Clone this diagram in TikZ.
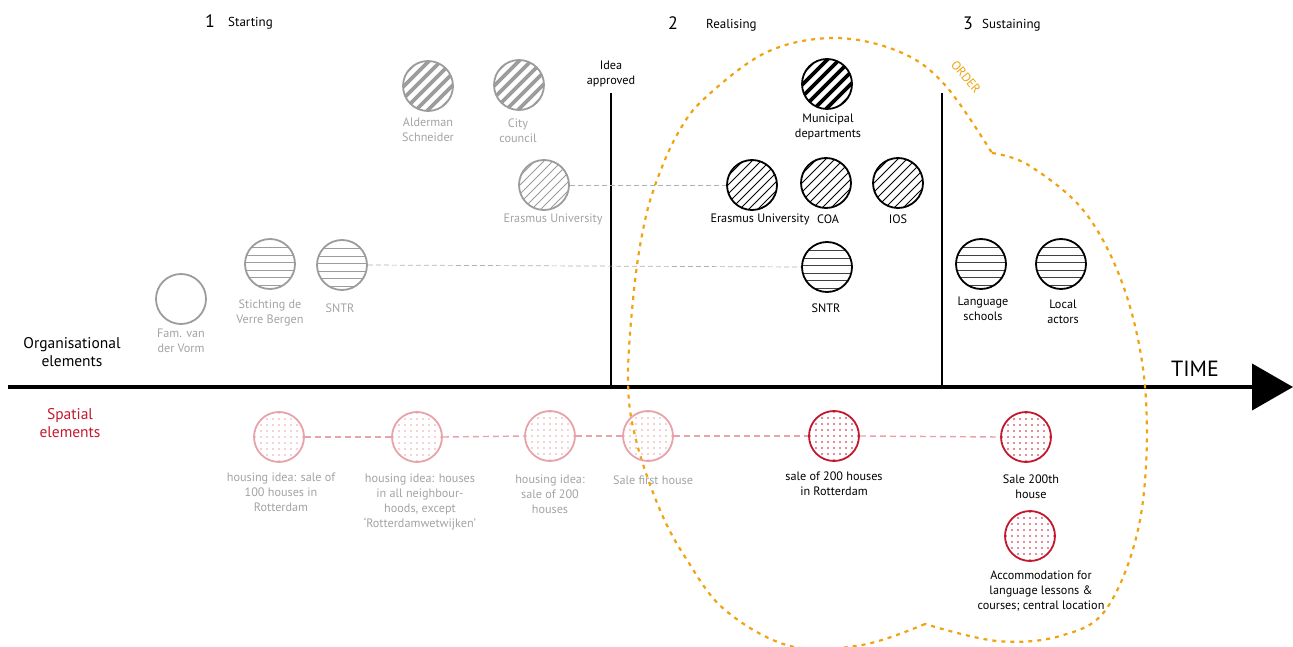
\documentclass[tikz,border=0pt]{standalone}
\usepackage{fontspec}
\setmainfont{PT Sans}
\usetikzlibrary{arrows.meta}
\definecolor{gc}{HTML}{9C9C9C}
\definecolor{gt}{HTML}{A3A3A3}
\definecolor{pk}{HTML}{E8A3AA}
\definecolor{rd}{HTML}{C4182E}
\definecolor{org}{HTML}{F0A310}
\tikzset{
  ball/.style={circle,draw=#1,line width=1.8pt,minimum size=50pt,inner sep=0pt},
  thickhatch/.style={path picture={\foreach \i in {-60,-48,...,60}
     \draw[line width=3.6pt,#1] ([xshift=\i pt-40pt,yshift=-40pt]path picture bounding box.center) -- ++(80pt,80pt);}},
  thinhatch/.style={path picture={\foreach \i in {-60,-51,...,60}
     \draw[line width=0.8pt,#1] ([xshift=\i pt-40pt,yshift=-40pt]path picture bounding box.center) -- ++(80pt,80pt);}},
  hlines/.style={path picture={\foreach \i in {-21,-13.5,...,22}
     \draw[line width=0.8pt,#1] ([xshift=-30pt,yshift=\i pt]path picture bounding box.center) -- ++(60pt,0pt);}},
  dots/.style={path picture={\foreach \a in {-24,-18,...,24} \foreach \b in {-24,-18,...,24}
     \fill[#1] ([xshift=\a pt,yshift=\b pt]path picture bounding box.center) circle(0.85pt);}},
  lbl/.style={align=center,font=\fontsize{12.2}{15}\selectfont,inner sep=0pt},
  glbl/.style={lbl,text=gt},
  head/.style={font=\fontsize{13}{15}\selectfont,inner sep=0pt,anchor=west},
  num/.style={font=\fontsize{18}{20}\selectfont,inner sep=0pt},
  graydash/.style={draw=gc!80,line width=0.7pt,dash pattern=on 5pt off 3pt},
  pinkdash/.style={draw=pk,line width=1.4pt,dash pattern=on 6pt off 4pt},
  orangedash/.style={draw=org,line width=2.2pt,dash pattern=on 4pt off 5pt},
}
\begin{document}
\begin{tikzpicture}[x=1pt,y=-1pt]
\useasboundingbox (0,0) rectangle (1293,647);

% headers
\node[num] (n1) at (210,21) {1};
\node[head] (h1) at (228,23) {Starting};
\node[num] (n2) at (673,23) {2};
\node[head] (h2) at (706,25) {Realising};
\node[num] (n3) at (968,23) {3};
\node[head] (h3) at (982,25) {Sustaining};

% timeline
\coordinate (tl0) at (8,387);
\coordinate (tl1) at (1293,387);
\draw[line width=4pt,-{Triangle[length=41pt,width=46pt]}] (tl0) -- (tl1);
\node[font=\fontsize{22}{24}\selectfont,inner sep=0pt] (time) at (1195,369) {TIME};

% vertical milestones
\coordinate (v1t) at (611,93); \coordinate (v1b) at (611,387);
\coordinate (v2t) at (942,93); \coordinate (v2b) at (942,387);
\draw[line width=2pt] (v1t) -- (v1b);
\draw[line width=2pt] (v2t) -- (v2b);
\node[lbl] (idea) at (611,74) {Idea\\approved};

\node[lbl,font=\fontsize{15.5}{18.5}\selectfont] (org) at (72,352) {Organisational\\elements};
\node[lbl,font=\fontsize{15.5}{18.5}\selectfont,text=rd] (spa) at (70,423) {Spatial\\elements};

% orange blob
\draw[orangedash] plot[smooth,tension=0.6] coordinates {(992,153) (1030,166) (1087,215) (1127,297) (1146,400) (1140,520) (1107,608) (1060,636) (997,641) (925,624)};
\draw[orangedash] plot[smooth,tension=0.6] coordinates {(925,624) (862,645) (790,646) (725,610) (687,560) (660,510) (636,440) (628,380) (634,290) (644,225) (657,180) (678,133) (705,98) (767,52) (835,38) (900,52) (945,85) (992,153)};
\node[text=org,font=\fontsize{12.5}{14}\selectfont,rotate=-50,inner sep=0pt] (order) at (966,77) {ORDER};

% gray organisational
\node[ball=gc,thickhatch=gc] (ald) at (428,86) {};
\node[glbl] (aldl) at (428,130) {Alderman\\Schneider};
\node[ball=gc,thickhatch=gc] (city) at (519,85) {};
\node[glbl] (cityl) at (518,131) {City\\council};
\node[ball=gc,thinhatch=gc] (eug) at (544,185) {};
\node[glbl] (eugl) at (553,219) {Erasmus University};
\node[ball=gc] (fam) at (181,299) {};
\node[glbl] (faml) at (181,341) {Fam. van\\der Vorm};
\node[ball=gc,hlines=gc] (sti) at (270,264) {};
\node[glbl] (stil) at (270,313) {Stichting de\\Verre Bergen};
\node[ball=gc,hlines=gc] (sng) at (342,265) {};
\node[glbl] (sngl) at (340,308) {SNTR};

% black organisational
\node[ball=black,thickhatch=black] (mun) at (827,84) {};
\node[lbl] (munl) at (828,127) {Municipal\\departments};
\node[ball=black,thinhatch=black] (eub) at (752,185) {};
\node[lbl] (eubl) at (760,219) {Erasmus University};
\node[ball=black,thinhatch=black] (coa) at (826,183) {};
\node[lbl] (coal) at (828,219) {COA};
\node[ball=black,thinhatch=black] (ios) at (898,183) {};
\node[lbl] (iosl) at (898,219) {IOS};
\node[ball=black,hlines=black!75] (snb) at (827,267) {};
\node[lbl] (snbl) at (826,308) {SNTR};
\node[ball=black,hlines=black!75] (lan) at (981,264) {};
\node[lbl] (lanl) at (983,309) {Language\\schools};
\node[ball=black,hlines=black!75] (loc) at (1061,264) {};
\node[lbl] (locl) at (1063,312) {Local\\actors};

\draw[graydash] (eug.east) -- (eub.west);
\draw[graydash] (sng.east) -- (snb.west);

% spatial
\node[ball=pk,dots=pk] (s1) at (279,437) {};
\node[glbl] (s1l) at (281,492) {housing idea: sale of\\100 houses in\\Rotterdam};
\node[ball=pk,dots=pk] (s2) at (417,437) {};
\node[glbl] (s2l) at (420,502) {housing idea: houses\\in all neighbour-\\hoods, except\\‘Rotterdamwetwijken’};
\node[ball=pk,dots=pk] (s3) at (550,436) {};
\node[glbl] (s3l) at (550,494) {housing idea:\\sale of 200\\houses};
\node[ball=pk,dots=pk] (s4) at (648,436) {};
\node[glbl] (s4l) at (653,480) {Sale first house};
\node[ball=rd,dots=rd] (s5) at (834,436) {};
\node[lbl] (s5l) at (834,484) {sale of 200 houses\\in Rotterdam};
\node[ball=rd,dots=rd] (s6) at (1026,437) {};
\node[lbl] (s6l) at (1031,487) {Sale 200th\\house};
\node[ball=rd,dots=rd] (s7) at (1030,536) {};
\node[lbl] (s7l) at (1041,591) {Accommodation for\\language lessons \&\\courses; central location};

\draw[pinkdash] (s1.east) -- (s2.west);
\draw[pinkdash] (s2.east) -- (s3.west);
\draw[pinkdash] (s3.east) -- (s4.west);
\draw[pinkdash] (s4.east) -- (s5.west);
\draw[pinkdash] (s5.east) -- (s6.west);
\end{tikzpicture}
\end{document}
